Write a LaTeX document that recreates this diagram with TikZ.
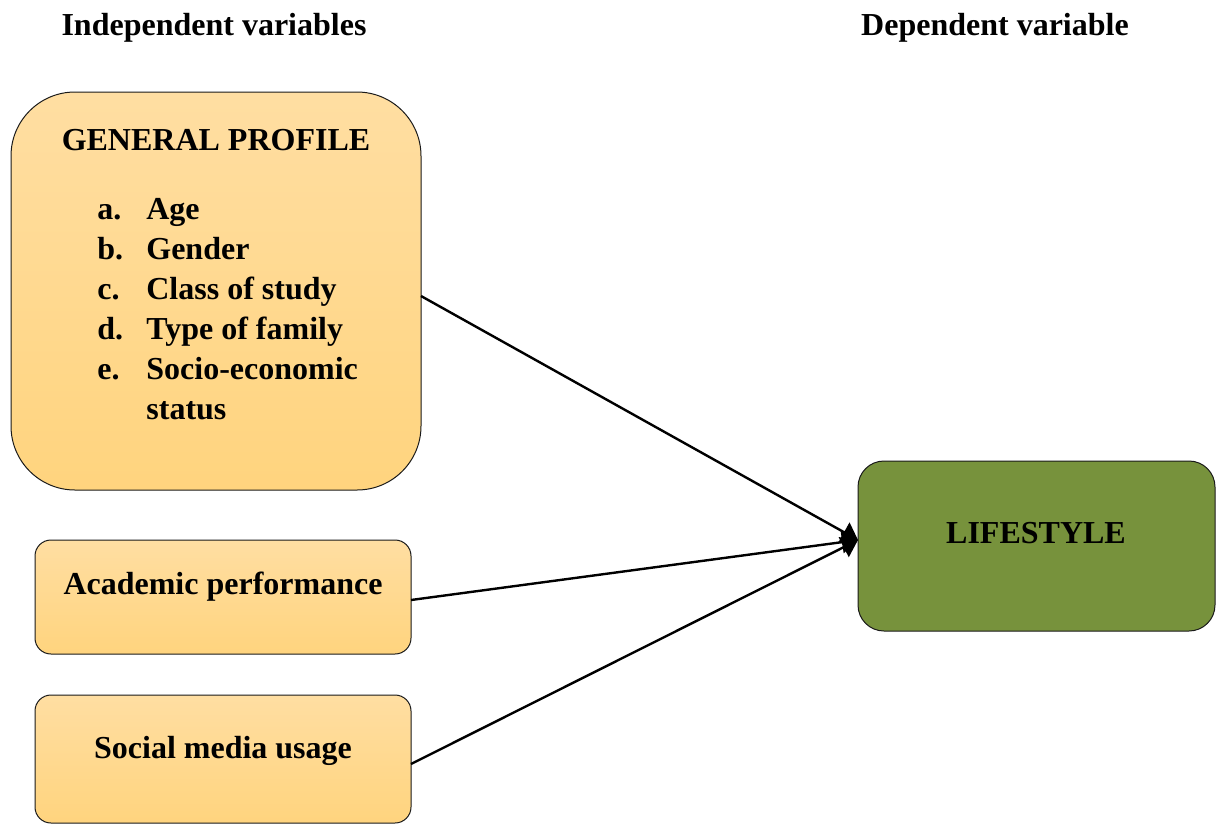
\documentclass[tikz,border=0pt]{standalone}
\usepackage{fontspec}
\setmainfont{Liberation Serif}
\usepackage{xcolor}
\usepackage{tikz}
\usetikzlibrary{arrows.meta,positioning,calc}
\definecolor{goldtop}{HTML}{FFDEA2}
\definecolor{goldbot}{HTML}{FFD47E}
\definecolor{olive}{HTML}{77923C}
\definecolor{edge}{HTML}{1A1A1A}
\tikzset{
  box/.style={rectangle, draw=edge, line width=0.5pt, inner sep=0pt, outer sep=0pt,
              top color=goldtop, bottom color=goldbot},
  profbox/.style={box, rounded corners=32pt, minimum width=205pt, minimum height=199pt},
  varbox/.style={box, rounded corners=8pt, minimum width=188pt},
  outbox/.style={rectangle, draw=edge, line width=0.5pt, fill=olive, rounded corners=13pt,
                 minimum width=178.5pt, minimum height=85pt, inner sep=0pt, outer sep=0pt},
  txt/.style={font=\fontsize{16}{20}\selectfont\bfseries, inner sep=0pt, anchor=base},
  flow/.style={-{Triangle[length=8pt, width=11pt]}, draw=black, line width=1.2pt},
}
\begin{document}
\begin{tikzpicture}[x=0.5pt, y=-0.5pt]
\useasboundingbox (0,0) rectangle (1221,825);
\node[txt] (indep) at (214,35) {Independent variables};
\node[txt] (dep) at (995,35) {Dependent variable};
\node[profbox] (prof) at (216,291) {};
\node[txt] (proftitle) at (216,150) {GENERAL PROFILE};
\node[txt, anchor=north west, align=left] (proflist) at (97,198)
 {\makebox[24.5pt][l]{a.}Age\\
  \makebox[24.5pt][l]{b.}Gender\\
  \makebox[24.5pt][l]{c.}Class of study\\
  \makebox[24.5pt][l]{d.}Type of family\\
  \makebox[24.5pt][l]{e.}Socio-economic\\
  \hspace*{24.5pt}status};
\node[varbox, minimum height=57pt] (acad) at (223,597) {};
\node[txt] (acadtext) at (223,594) {Academic performance};
\node[varbox, minimum height=64pt] (soc) at (223,759) {};
\node[txt] (soctext) at (223,758) {Social media usage};
\node[outbox] (life) at (1036.5,546) {};
\node[txt] (lifetext) at (1036,543) {LIFESTYLE};
\coordinate (tip) at (858,540);
\draw[flow] ($(prof.east)+(0,5)$) -- (tip);
\draw[flow] ($(acad.east)+(0,3)$) -- (tip);
\draw[flow] ($(soc.east)+(0,5)$) -- (tip);
\end{tikzpicture}
\end{document}
